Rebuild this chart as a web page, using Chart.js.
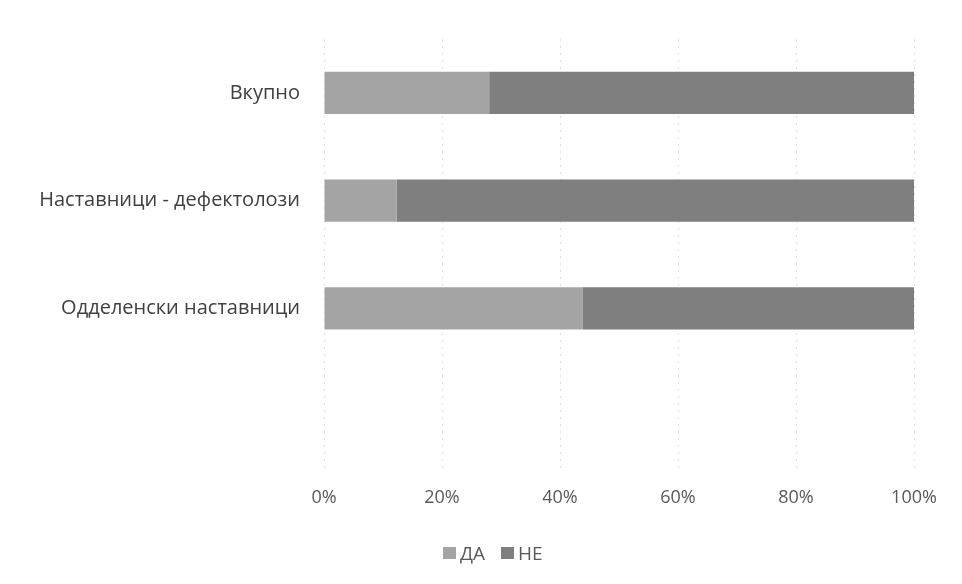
<!DOCTYPE html>
<html>
<head>
<meta charset="utf-8">
<script src="https://cdn.jsdelivr.net/npm/chart.js@4/dist/chart.umd.min.js"></script>
<style>
  html, body { margin: 0; padding: 0; background: #fff; }
  #wrap { position: relative; width: 962px; height: 584px; }
  #legend {
    position: absolute; left: 443px; top: 540px;
    font-family: "Open Sans", sans-serif; font-size: 19px; color: #595959;
    display: flex; gap: 16px; align-items: center;
  }
  #legend span.item { display: flex; align-items: center; }
  #legend i { display: inline-block; width: 13px; height: 12px; margin-right: 4px; }
</style>
</head>
<body>
<div id="wrap">
  <canvas id="chart" width="962" height="584"></canvas>
  <div id="legend"></div>
</div>
<script>
// Категории (сверху вниз), последняя строка пустая
const categories = ['Вкупно', 'Наставници - дефектолози', 'Одделенски наставници', ''];
const seriesNames = ['ДА', 'НЕ'];
const daValues = [28, 12.3, 43.8, null];
const neValues = [72, 87.7, 56.2, null];
const tickValues = [0, 20, 40, 60, 80, 100];

const colors = ['#a4a4a4', '#7f7f7f'];

const ctx = document.getElementById('chart');

const chart = new Chart(ctx, {
  type: 'bar',
  data: {
    labels: categories,
    datasets: [
      { label: seriesNames[0], data: daValues, backgroundColor: colors[0], barPercentage: 0.39, categoryPercentage: 1 },
      { label: seriesNames[1], data: neValues, backgroundColor: colors[1], barPercentage: 0.39, categoryPercentage: 1 }
    ]
  },
  options: {
    indexAxis: 'y',
    responsive: false,
    animation: false,
    layout: { padding: { top: 39, right: 48, left: 0, bottom: 0 } },
    scales: {
      x: {
        stacked: true,
        min: 0,
        max: 100,
        afterBuildTicks: (scale) => { scale.ticks = tickValues.map(v => ({ value: v })); },
        afterFit: (scale) => { scale.height = 114; },
        ticks: {
          padding: 17,
          color: '#595959',
          font: { family: 'Open Sans', size: 18 },
          callback: (value) => value + '%'
        },
        grid: {
          color: '#e0e0e0',
          lineWidth: 1,
          drawTicks: false
        },
        border: { display: false, dash: [2, 5] }
      },
      y: {
        stacked: true,
        afterFit: (scale) => { scale.width = 324; },
        ticks: {
          padding: 24,
          color: '#404040',
          font: { family: 'Open Sans', size: 20 }
        },
        grid: { display: false, drawTicks: false },
        border: { display: false }
      }
    },
    plugins: {
      legend: { display: false },
      tooltip: { enabled: false }
    }
  }
});

// Легенда
const legendEl = document.getElementById('legend');
chart.data.datasets.forEach(ds => {
  const item = document.createElement('span');
  item.className = 'item';
  item.innerHTML = '<i style="background:' + ds.backgroundColor + '"></i>' + ds.label;
  legendEl.appendChild(item);
});
</script>
</body>
</html>
